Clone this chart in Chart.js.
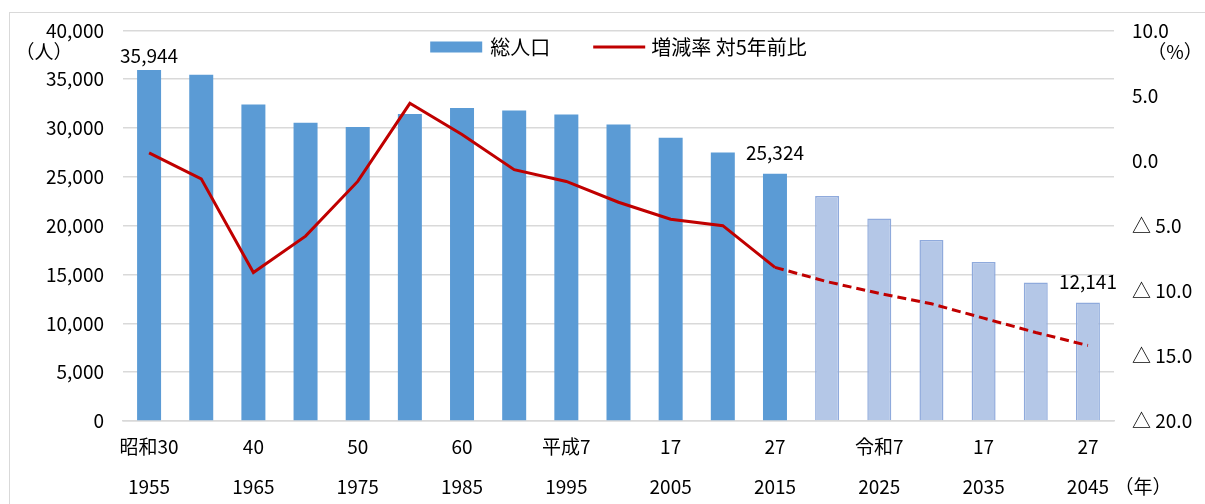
<!DOCTYPE html>
<html>
<head>
<meta charset="utf-8">
<script src="https://cdn.jsdelivr.net/npm/chart.js@4.4.0/dist/chart.umd.min.js"></script>
<style>
  html, body { margin: 0; padding: 0; background: #fff; overflow: hidden; }
  #wrap { position: relative; width: 1205px; height: 504px; overflow: hidden; }
  #frame { position: absolute; left: 9px; top: 12px; width: 1220px; height: 520px; border: 1px solid #D9D9D9; box-sizing: border-box; pointer-events: none; }
  canvas { position: absolute; left: 0; top: 0; }
</style>
</head>
<body>
<div id="wrap">
  <canvas id="chart" width="1205" height="504"></canvas>
  <div id="frame"></div>
</div>
<script>
// Categories: every 5 years
const years = [1955, 1960, 1965, 1970, 1975, 1980, 1985, 1990, 1995, 2000,
               2005, 2010, 2015, 2020, 2025, 2030, 2035, 2040, 2045];

// Japanese era labels (first tick row), blank where no label is shown
const eraLabels = ['昭和30', '', '40', '', '50', '', '60', '', '平成7', '',
                   '17', '', '27', '', '令和7', '', '17', '', '27'];

// Total population (persons)
const population = [35944, 35450, 32400, 30550, 30100, 31450, 32050, 31800, 31400, 30370,
                    29000, 27500, 25324, 23050, 20730, 18540, 16290, 14180, 12141];

// Change vs 5 years earlier (%)
const changeRate = [0.6, -1.4, -8.6, -5.8, -1.6, 4.4, 2.0, -0.7, -1.6, -3.2,
                    -4.5, -5.0, -8.2, -9.3, -10.2, -11.0, -12.1, -13.2, -14.2];

const projectedFrom = 13;          // 2020 onward are projections
const labelledBars = [0, 12, 18];  // bars that carry a value label

const FONT = "'Noto Sans CJK JP', sans-serif";
const BLUE = '#5B9BD5';
const BLUE_LIGHT = '#B4C7E7';
const BLUE_EDGE = '#8FAADC';
const RED = '#C00000';

function fmtRate(v) {
    return v >= 0 ? v.toFixed(1) : '△ ' + (-v).toFixed(1);
}

// Value labels, legend and unit captions
const extrasPlugin = {
    id: 'extras',
    afterDatasetsDraw(chart) {
        const ctx = chart.ctx;
        const meta = chart.getDatasetMeta(0);
        ctx.save();
        ctx.font = `19px ${FONT}`;
        ctx.fillStyle = '#000';
        ctx.textAlign = 'center';
        ctx.textBaseline = 'middle';
        labelledBars.forEach(i => {
            const bar = meta.data[i];
            const dy = i === 0 ? 14 : 21;
            ctx.fillText(population[i].toLocaleString('en-US'), bar.x, bar.y - dy);
        });
        ctx.restore();
    },
    afterDraw(chart) {
        const ctx = chart.ctx;
        const area = chart.chartArea;
        ctx.save();
        ctx.fillStyle = '#000';
        ctx.textBaseline = 'middle';

        // legend
        ctx.font = `20px ${FONT}`;
        const t1 = chart.data.datasets[0].label;
        const t2 = chart.data.datasets[1].label;
        const w1 = ctx.measureText(t1).width;
        const w2 = ctx.measureText(t2).width;
        const total = 52 + 8 + w1 + 43 + 52 + 6 + w2;
        let x = (area.left + area.right) / 2 - total / 2;
        const ly = 47;
        ctx.fillStyle = BLUE;
        ctx.fillRect(x, ly - 5.5, 52, 11);
        x += 60;
        ctx.fillStyle = '#000';
        ctx.textAlign = 'left';
        ctx.fillText(t1, x, ly);
        x += w1 + 43;
        ctx.strokeStyle = RED;
        ctx.lineWidth = 3;
        ctx.beginPath();
        ctx.moveTo(x, ly);
        ctx.lineTo(x + 52, ly);
        ctx.stroke();
        x += 58;
        ctx.fillText(t2, x, ly);

        // unit captions
        ctx.font = `19px ${FONT}`;
        ctx.textAlign = 'center';
        ctx.fillText('（人）', 44, 52);
        ctx.fillText('（%）', 1175, 52);
        ctx.fillText('（年）', 1143, 487);
        ctx.restore();
    }
};

const ctx = document.getElementById('chart').getContext('2d');

new Chart(ctx, {
    data: {
        labels: years,
        datasets: [{
            type: 'bar',
            label: '総人口',
            data: population,
            yAxisID: 'y',
            backgroundColor: c => c.dataIndex >= projectedFrom ? BLUE_LIGHT : BLUE,
            borderColor: c => c.dataIndex >= projectedFrom ? BLUE_EDGE : BLUE,
            borderWidth: c => c.dataIndex >= projectedFrom ? 1.5 : 0,
            barPercentage: 0.46,
            categoryPercentage: 1,
            order: 1
        }, {
            type: 'line',
            label: '増減率 対5年前比',
            data: changeRate,
            yAxisID: 'y1',
            borderColor: RED,
            borderWidth: 3,
            pointRadius: 0,
            tension: 0,
            segment: {
                borderDash: c => c.p0DataIndex >= projectedFrom - 1 ? [9, 5] : undefined
            },
            order: 0
        }]
    },
    options: {
        responsive: false,
        animation: false,
        layout: {
            padding: { top: 29, left: 0, right: 0, bottom: 0 }
        },
        plugins: {
            legend: { display: false },
            tooltip: { enabled: false }
        },
        scales: {
            x: {
                grid: { display: false },
                border: { display: true, color: '#D9D9D9', width: 1.5 },
                ticks: {
                    autoSkip: false,
                    maxRotation: 0,
                    padding: -2,
                    color: '#000',
                    font: { family: FONT, size: 19, lineHeight: 40 / 19 },
                    callback: (v, i) => eraLabels[i] ? [eraLabels[i], String(years[i])] : ''
                },
                afterFit: s => { s.height = 83; }
            },
            y: {
                position: 'left',
                min: 0,
                max: 40000,
                grid: { color: '#D9D9D9', lineWidth: 1.5, drawTicks: false },
                border: { display: false },
                ticks: {
                    stepSize: 5000,
                    padding: 19,
                    color: '#000',
                    font: { family: FONT, size: 19 },
                    callback: v => v.toLocaleString('en-US')
                },
                afterFit: s => { s.width = 123; }
            },
            y1: {
                position: 'right',
                min: -20,
                max: 10,
                grid: { display: false, drawTicks: false },
                border: { display: false },
                ticks: {
                    stepSize: 5,
                    padding: 18,
                    color: '#000',
                    font: { family: FONT, size: 19 },
                    callback: v => fmtRate(v)
                },
                afterFit: s => { s.width = 91; }
            }
        }
    },
    plugins: [extrasPlugin]
});
</script>
</body>
</html>
